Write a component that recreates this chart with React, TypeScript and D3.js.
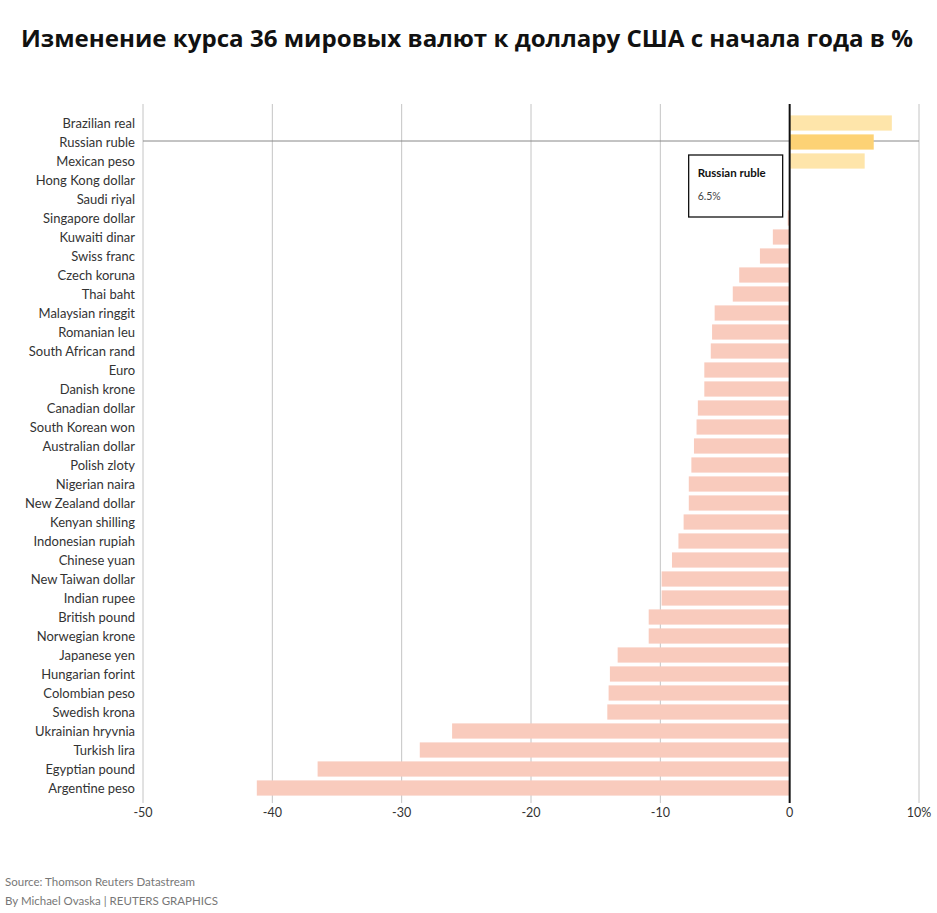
import React from "react";
import * as d3 from "d3";

const currencies: string[] = [
  "Brazilian real", "Russian ruble", "Mexican peso", "Hong Kong dollar", "Saudi riyal",
  "Singapore dollar", "Kuwaiti dinar", "Swiss franc", "Czech koruna", "Thai baht",
  "Malaysian ringgit", "Romanian leu", "South African rand", "Euro", "Danish krone",
  "Canadian dollar", "South Korean won", "Australian dollar", "Polish zloty", "Nigerian naira",
  "New Zealand dollar", "Kenyan shilling", "Indonesian rupiah", "Chinese yuan", "New Taiwan dollar",
  "Indian rupee", "British pound", "Norwegian krone", "Japanese yen", "Hungarian forint",
  "Colombian peso", "Swedish krona", "Ukrainian hryvnia", "Turkish lira", "Egyptian pound",
  "Argentine peso",
];

const changes: number[] = [
  7.9, 6.5, 5.8, -0.05, 0, -0.15, -1.3, -2.3, -3.9, -4.4,
  -5.8, -6.0, -6.1, -6.6, -6.6, -7.1, -7.2, -7.4, -7.6, -7.8,
  -7.8, -8.2, -8.6, -9.1, -9.9, -9.9, -10.9, -10.9, -13.3, -13.9,
  -14.0, -14.1, -26.1, -28.6, -36.5, -41.2,
];

const tickValues: number[] = [-50, -40, -30, -20, -10, 0, 10];
const tickLabels: string[] = ["-50", "-40", "-30", "-20", "-10", "0", "10%"];

const highlighted = "Russian ruble";
const title = "Изменение курса 36 мировых валют к доллару США с начала года в %";
const sourceLines: string[] = [
  "Source: Thomson Reuters Datastream",
  "By Michael Ovaska | REUTERS GRAPHICS",
];

export default function App() {
  const W = 937, H = 913;
  const left = 143, right = 919, top = 104, bottom = 803;
  const x = d3.scaleLinear().domain([-50, 10]).range([left, right]);
  const y = d3.scaleBand<string>().domain(currencies).range([113.5, 797.5]).paddingInner(0.2).paddingOuter(0.1);
  const font = "Lato, 'Open Sans', sans-serif";
  const hiIdx = currencies.indexOf(highlighted);
  const hiY = (y(highlighted) ?? 0) + y.bandwidth() / 2 - 1;
  const hiVal = changes[hiIdx];

  const barColor = (name: string, v: number) =>
    v >= 0 ? (name === highlighted ? "#fdd275" : "#fee5aa") : "#f9cbbd";

  return (
    <svg width={W} height={H} style={{ position: "absolute", left: 0, top: 0, background: "#fff" }}>
      <text x={467} y={47} textAnchor="middle" fontFamily="'Open Sans', sans-serif" fontWeight={700}
        fontSize={23} fill="#111" textLength={892} lengthAdjust="spacingAndGlyphs">{title}</text>

      {/* grid */}
      {tickValues.filter((t) => t !== 0).map((t) => (
        <line key={t} x1={x(t)} x2={x(t)} y1={top} y2={bottom} stroke="#c4c4c4" strokeWidth={1} />
      ))}

      {/* crosshair */}
      <line x1={left} x2={right} y1={hiY} y2={hiY} stroke="#888" strokeWidth={1} />

      {/* bars */}
      {currencies.map((c, i) => {
        const v = changes[i];
        const x0 = x(Math.min(0, v));
        const x1 = x(Math.max(0, v));
        return (
          <rect key={c} x={x0} y={y(c)} width={Math.max(0, x1 - x0)} height={y.bandwidth()} fill={barColor(c, v)} />
        );
      })}

      {/* zero line */}
      <line x1={x(0)} x2={x(0)} y1={top} y2={bottom} stroke="#111" strokeWidth={2} />

      {/* category labels */}
      {currencies.map((c) => (
        <text key={c} x={135} y={(y(c) ?? 0) + y.bandwidth() / 2} dy="0.35em" textAnchor="end"
          fontFamily={font} fontSize={13} fill="#333">{c}</text>
      ))}

      {/* tick labels */}
      {tickValues.map((t, i) => (
        <text key={t} x={x(t)} y={813} dy="0.35em" textAnchor="middle" fontFamily={font} fontSize={12.5} fill="#333">
          {tickLabels[i]}
        </text>
      ))}

      {/* tooltip */}
      <g transform={`translate(${x(0) - 101},${hiY + 14})`}>
        <rect x={0} y={0} width={94} height={62} fill="#fff" stroke="#111" strokeWidth={1.3} />
        <text x={9} y={22} fontFamily={font} fontWeight={700} fontSize={11.5} fill="#111">{highlighted}</text>
        <text x={9} y={45} fontFamily={font} fontSize={10.5} fill="#444">{`${hiVal}%`}</text>
      </g>

      {/* source */}
      {sourceLines.map((s, i) => (
        <text key={s} x={5} y={886 + i * 19} fontFamily={font} fontSize={11.5} fill="#777">{s}</text>
      ))}
    </svg>
  );
}
